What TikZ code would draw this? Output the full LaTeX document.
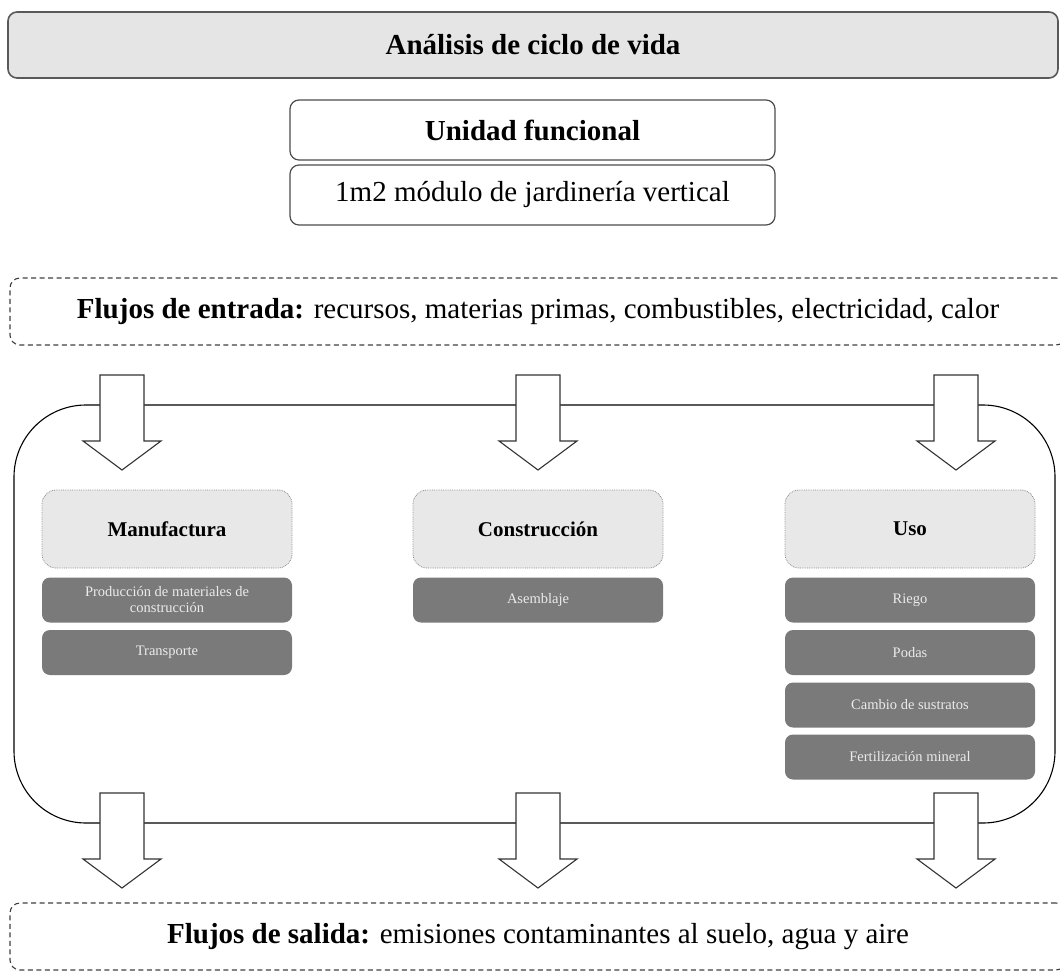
\documentclass[tikz,border=0pt]{standalone}
\usepackage{fontspec}
\setmainfont{Liberation Serif}
\begin{document}
\begin{tikzpicture}[x=1pt,y=-1pt,
  titlebox/.style={draw=black!65, line width=1.6pt, fill=black!10, rounded corners=9pt, inner sep=0pt},
  unitbox/.style={draw=black!70, line width=1.2pt, fill=white, rounded corners=9pt, inner sep=0pt},
  flowbox/.style={draw=black!75, line width=1.1pt, dash pattern=on 5pt off 3.5pt, rounded corners=10pt, inner sep=0pt},
  cyclebox/.style={draw=black, line width=1.1pt, rounded corners=72pt, inner sep=0pt},
  phasebox/.style={draw=black!45, line width=0.8pt, densely dotted, fill=black!9, rounded corners=14pt, inner sep=0pt, minimum width=250pt, minimum height=78pt, font=\fontsize{21}{24}\selectfont\bfseries},
  taskbox/.style={fill=black!52, rounded corners=8pt, text=black!8, align=center, inner sep=0pt, minimum width=250pt, minimum height=45pt, font=\fontsize{14.5}{16}\selectfont},
  bigtext/.style={font=\fontsize{29}{33}\selectfont},
  barrow/.style={draw=black!80, fill=white, line width=1.1pt, line join=miter},
  pics/blockarrow/.style={code={\draw[barrow] (-22,0) -- (22,0) -- (22,66) -- (39,66) -- (0,95) -- (-39,66) -- (-22,66) -- cycle;}}
]
\useasboundingbox (0,0) rectangle (1060,974);

\node[titlebox, bigtext, minimum width=1050pt, minimum height=66pt] (title) at (533,45) {\bfseries Análisis de ciclo de vida};
\node[unitbox, bigtext, minimum width=485pt, minimum height=60pt] (unidad) at (532.5,130) {\bfseries Unidad funcional};
\node[unitbox, bigtext, minimum width=485pt, minimum height=60pt] (modulo) at (532.5,195) {1m2 módulo de jardinería vertical};

\node[flowbox, bigtext, minimum width=1056pt, minimum height=67pt] (entrada) at (538,311.5) {\textbf{Flujos de entrada:} recursos, materias primas, combustibles, electricidad, calor};

\node[cyclebox, minimum width=1041pt, minimum height=418pt] (ciclo) at (534.5,614) {};

\pic at (122,375) {blockarrow};
\pic at (538,375) {blockarrow};
\pic at (956,375) {blockarrow};

\node[phasebox] (manu) at (167,529) {Manufactura};
\node[phasebox] (cons) at (538,529) {Construcción};
\node[phasebox] (uso) at (910,529) {Uso};

\node[taskbox] (prod) at (167,600) {Producción de materiales de\\construcción};
\node[taskbox] (trans) at (167,652.5) {Transporte};
\node[taskbox] (asem) at (538,600) {Asemblaje};
\node[taskbox] (riego) at (910,600) {Riego};
\node[taskbox] (podas) at (910,652.5) {Podas};
\node[taskbox] (cambio) at (910,705) {Cambio de sustratos};
\node[taskbox] (fert) at (910,757) {Fertilización mineral};

\pic at (122,793) {blockarrow};
\pic at (538,793) {blockarrow};
\pic at (956,793) {blockarrow};

\node[flowbox, bigtext, minimum width=1056pt, minimum height=67pt] (salida) at (538,936.5) {\textbf{Flujos de salida:} emisiones contaminantes al suelo, agua y aire};
\end{tikzpicture}
\end{document}
